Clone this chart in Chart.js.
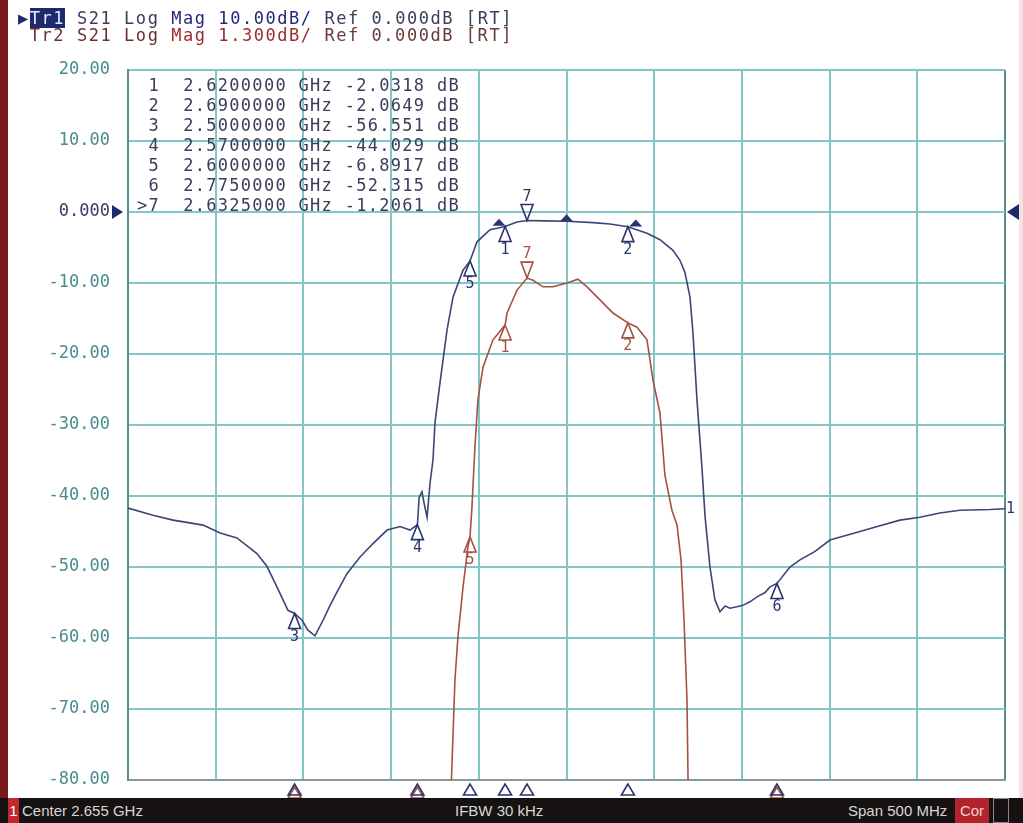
<!DOCTYPE html>
<html>
<head>
<meta charset="utf-8">
<script src="https://cdn.jsdelivr.net/npm/chart.js"></script>
<style>
  body { margin: 0; width: 1023px; height: 823px; background: #fff; position: relative; overflow: hidden; }
  canvas { position: absolute; left: 0; top: 0; }
  .strip { position: absolute; left: 0; top: 0; width: 8px; height: 823px; background: #7b1a1e; }
  .rstrip { position: absolute; right: 0; top: 0; width: 4px; height: 823px; background: #f3e4e4; }
  .mono { position: absolute; font-family: "DejaVu Sans Mono", monospace; font-size: 17px; white-space: pre; }
  #hdr { left: 18px; top: 10px; line-height: 17px; letter-spacing: 1.55px; }
  #hdr .tr1 { background: #1d2a6e; color: #e8e8ff; }
  #table { left: 137px; top: 75px; line-height: 20px; letter-spacing: 1.3px; color: #3c3c5c; }
  #status { position: absolute; left: 0; top: 798px; width: 1023px; height: 25px; background: #171212; color: #d6d6d6;
            font-family: "Liberation Sans", sans-serif; font-size: 15px; line-height: 25px; }
  #status span { position: absolute; top: 0; }
  .box1 { left: 8px; width: 11px; background: #c3282c; color: #fff; text-align: center; }
  .cor { left: 955px; width: 34px; background: #b3242a; color: #f4d0d0; text-align: center; }
  .dbox { left: 993px; width: 14px; height: 23px; border: 1px solid #888; }
</style>
</head>
<body>
<div class="strip"></div>
<div class="rstrip"></div>
<canvas id="vna" width="1023" height="823"></canvas>
<div id="hdr" class="mono"><span style="color:#1d2a6e">▶</span><span class="tr1">Tr1</span><span style="color:#3c3c5c"> S21 Log </span><span style="color:#26267a">Mag 10.00dB/</span><span style="color:#3c3c5c"> Ref 0.000dB [RT]</span>
<span style="color:#6a3030"> Tr2 S21 Log </span><span style="color:#9c2a2a">Mag 1.300dB/</span><span style="color:#6a3a3a"> Ref 0.000dB [RT]</span></div>
<div id="table" class="mono"></div>
<div id="status">
  <span class="box1">1</span>
  <span style="left:22px">Center 2.655 GHz</span>
  <span style="left:455px">IFBW 30 kHz</span>
  <span style="left:848px">Span 500 MHz</span>
  <span class="cor">Cor</span>
  <span class="dbox"></span>
</div>
<script>
// Tr1: S21 Log Mag, 10 dB/div (GHz, dB)
const freqTr1 = [2.405, 2.4193, 2.4307, 2.4478, 2.4575, 2.4671, 2.4785, 2.4842, 2.4899, 2.4962, 2.5,
  2.5042, 2.5076, 2.5116, 2.5162, 2.5202, 2.5242, 2.5299, 2.5373, 2.5447, 2.5527, 2.5601, 2.5658, 2.57,
  2.571, 2.5726, 2.5738, 2.5755, 2.5772, 2.5789, 2.58, 2.5829, 2.5869, 2.5903, 2.596, 2.6, 2.604,
  2.6114, 2.62, 2.6268, 2.6325, 2.6428, 2.6553, 2.6701, 2.6798, 2.69, 2.7009, 2.7083, 2.7157, 2.7197,
  2.7225, 2.7254, 2.7271, 2.7294, 2.7322, 2.734, 2.7368, 2.7396, 2.7425, 2.7454, 2.7482, 2.7522,
  2.7556, 2.7596, 2.7636, 2.7682, 2.771, 2.775, 2.7824, 2.7881, 2.7967, 2.8052, 2.8223, 2.8337,
  2.8451, 2.8565, 2.8679, 2.8793, 2.8964, 2.905];
const magTr1 = [-41.7, -42.7, -43.4, -44.1, -45.2, -45.9, -48.1, -49.9, -52.8, -56.1, -56.551,
  -57.5, -58.9, -59.7, -57.5, -55.4, -53.5, -50.9, -48.6, -46.7, -44.8, -44.3, -44.8, -44.029,
  -40.2, -39.4, -41.0, -43.0, -38.2, -34.9, -29.7, -24.0, -16.6, -12.0, -8.2, -6.8917, -4.2,
  -2.5, -2.0318, -1.4, -1.2061, -1.25, -1.3, -1.5, -1.7, -2.0649, -3.0, -3.9, -5.4, -6.8,
  -8.5, -12.0, -17.0, -26.5, -35.9, -42.9, -50.0, -54.6, -56.3, -55.5, -55.8, -55.6,
  -55.4, -54.9, -54.2, -53.6, -52.8, -52.315, -50.0, -49.0, -47.8, -46.2, -45.0, -44.2,
  -43.4, -43.0, -42.4, -42.0, -41.9, -41.8];

// Tr2: S21 Log Mag, 1.3 dB/div (GHz, dB)
const freqTr2 = [2.5886, 2.5894, 2.5914, 2.5931, 2.596, 2.5988, 2.6, 2.6011, 2.6028, 2.6045,
  2.6074, 2.6131, 2.62, 2.6211, 2.6268, 2.6325, 2.6359, 2.6416, 2.6473, 2.6553, 2.6615, 2.6667,
  2.6741, 2.6815, 2.69, 2.6952, 2.7009, 2.7043, 2.7083, 2.7111, 2.7151, 2.718, 2.7203, 2.722,
  2.7237, 2.7243, 2.7249];
const magTr2 = [-11.0, -10.4, -8.57, -7.78, -6.87, -6.13, -5.95, -5.4, -4.3, -3.44,
  -2.84, -2.34, -2.07, -1.85, -1.43, -1.21, -1.25, -1.37, -1.37, -1.3, -1.23, -1.37,
  -1.61, -1.85, -2.03, -2.11, -2.34, -3.08, -3.68, -4.82, -5.46, -5.73, -6.37, -7.47,
  -8.94, -10.4, -11.0];

// markers 1..7 (marker 7 active)
const markerFreq = [2.62, 2.69, 2.5, 2.57, 2.6, 2.775, 2.6325];
const markerTr1 = [-2.0318, -2.0649, -56.551, -44.029, -6.8917, -52.315, -1.2061];
const markerTr2 = [-2.07, -2.03, null, null, -5.95, null, -1.21];
// filter bandwidth search marks on Tr1
const bwFreq = [2.6165, 2.655, 2.6945];
const bwMag = [-1.95, -1.3, -2.05];

const gridFreq = [2.405, 2.455, 2.505, 2.555, 2.605, 2.655, 2.705, 2.755, 2.805, 2.855, 2.905];

const NAVY = '#2a3470';
const TR1 = '#3b4677';
const TR2 = '#a4523e';
const GRID = '#82c6c6';
const FRAME = '#5b8c8c';

document.getElementById('table').textContent = markerFreq.map((f, i) =>
  (i === 6 ? '>' : ' ') + (i + 1) + '  ' + f.toFixed(7) + ' GHz ' + markerTr1[i].toPrecision(5) + ' dB'
).join('\n');

function tri(ctx, x, apexY, w, h, up, color, fill) {
  const base = up ? apexY + h : apexY - h;
  ctx.beginPath();
  ctx.moveTo(x, apexY);
  ctx.lineTo(x - w / 2, base);
  ctx.lineTo(x + w / 2, base);
  ctx.closePath();
  if (fill) { ctx.fillStyle = color; ctx.fill(); }
  else { ctx.strokeStyle = color; ctx.lineWidth = 1.6; ctx.stroke(); }
}

const vnaMarks = {
  id: 'vnaMarks',
  afterDatasetsDraw(chart) {
    const ctx = chart.ctx;
    const x = chart.scales.x, y = chart.scales.y, y2 = chart.scales.y2;
    const area = chart.chartArea;
    ctx.save();
    ctx.font = '15px "DejaVu Sans Mono", monospace';
    ctx.textAlign = 'center';

    // bandwidth marks
    bwFreq.forEach((f, i) => tri(ctx, x.getPixelForValue(f), y.getPixelForValue(bwMag[i]) - 7, 13, 7, true, NAVY, true));

    const drawSet = (vals, scale, color) => {
      vals.forEach((v, i) => {
        if (v === null) return;
        const px = x.getPixelForValue(markerFreq[i]);
        const py = scale.getPixelForValue(v);
        ctx.fillStyle = color;
        if (i === 6) {
          tri(ctx, px, py, 12, 16, false, color, false);
          ctx.textBaseline = 'bottom';
          ctx.fillStyle = color;
          ctx.fillText(String(i + 1), px, py - 16);
        } else {
          tri(ctx, px, py, 12, 15, true, color, false);
          ctx.textBaseline = 'top';
          ctx.fillStyle = color;
          ctx.fillText(String(i + 1), px, py + 16);
        }
      });
    };
    drawSet(markerTr2, y2, TR2);
    drawSet(markerTr1, y, NAVY);

    // marker position indicators below the grid
    markerFreq.forEach((f, i) => {
      const px = x.getPixelForValue(f);
      if (markerTr2[i] === null) {
        tri(ctx, px, area.bottom + 7, 13, 11, true, TR2, false);
        ctx.fillStyle = TR2;
        ctx.fillRect(px - 3, area.bottom + 18, 6, 3);
      }
      tri(ctx, px, area.bottom + 4, 13, 11, true, NAVY, false);
    });

    // reference level arrows
    const r = y.getPixelForValue(0);
    ctx.fillStyle = '#1d2a6e';
    ctx.beginPath(); ctx.moveTo(area.left - 16, r - 7); ctx.lineTo(area.left - 5, r); ctx.lineTo(area.left - 16, r + 7); ctx.fill();
    ctx.beginPath(); ctx.moveTo(area.right + 14, r - 8); ctx.lineTo(area.right + 2, r); ctx.lineTo(area.right + 14, r + 8); ctx.fill();

    // trace number at right end
    ctx.fillStyle = NAVY;
    ctx.textAlign = 'left';
    ctx.textBaseline = 'middle';
    ctx.fillText('1', area.right + 1, y.getPixelForValue(magTr1[magTr1.length - 1]));
    ctx.restore();
  }
};

new Chart(document.getElementById('vna'), {
  type: 'line',
  data: {
    datasets: [
      {
        label: 'Tr2',
        data: freqTr2.map((f, i) => ({ x: f, y: magTr2[i] })),
        yAxisID: 'y2',
        borderColor: TR2,
        borderWidth: 1.6
      },
      {
        label: 'Tr1',
        data: freqTr1.map((f, i) => ({ x: f, y: magTr1[i] })),
        yAxisID: 'y',
        borderColor: TR1,
        borderWidth: 1.6
      }
    ]
  },
  options: {
    responsive: false,
    animation: false,
    layout: { padding: { left: 0, top: 70, right: 18, bottom: 43 } },
    elements: { point: { radius: 0 }, line: { tension: 0 } },
    plugins: { legend: { display: false }, tooltip: { enabled: false } },
    scales: {
      x: {
        type: 'linear',
        min: 2.405,
        max: 2.905,
        afterBuildTicks: s => { s.ticks = gridFreq.map(v => ({ value: v })); },
        afterFit: s => { s.height = 0; },
        ticks: { display: false },
        grid: { color: c => (c.index === 0 || c.index === 10) ? FRAME : GRID, lineWidth: 2, drawTicks: false },
        border: { color: '#8a9a9a', width: 2 }
      },
      y: {
        min: -80,
        max: 20,
        afterFit: s => { s.width = 128; },
        ticks: {
          stepSize: 10,
          padding: 18,
          callback: v => v === 0 ? '0.000' : v.toFixed(2),
          color: c => c.tick.value === 0 ? '#3a3a66' : '#4a8c8c',
          font: { family: 'DejaVu Sans Mono', size: 17 }
        },
        grid: { color: GRID, lineWidth: 2, drawTicks: false },
        border: { color: FRAME, width: 2 }
      },
      y2: { display: false, min: -10.4, max: 2.6 }
    }
  },
  plugins: [vnaMarks]
});
</script>
</body>
</html>
